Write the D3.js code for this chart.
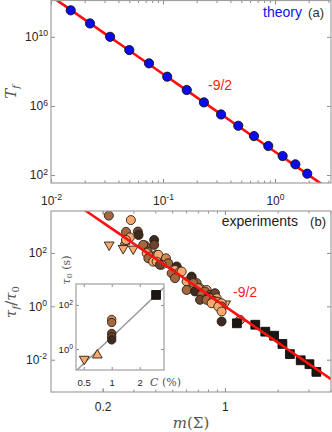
<!DOCTYPE html>
<html>
<head>
<meta charset="UTF-8">
<script src="https://cdn.jsdelivr.net/npm/d3@7"></script>
<style>
body{margin:0;background:#fff;}
.tick text{font-family:"Liberation Sans",Arial,sans-serif;font-size:12px;fill:#262626;}
.tick line{stroke:#8c8c8c;}
.frame{fill:none;stroke:#a0a0a0;stroke-width:1.2;}
.note{font-family:"Liberation Sans",Arial,sans-serif;font-size:14px;}
.mathlabel{font-family:"DejaVu Serif","Liberation Serif",serif;fill:#555;}
</style>
</head>
<body>
<div id="root"></div>
<script>
const W = 332, H = 432

// (a) theory
const theoryM = [0.0150, 0.0223, 0.0337, 0.050, 0.075, 0.109, 0.163, 0.232, 0.330, 0.470, 0.649, 0.871, 1.17, 1.52, 1.94]
const theoryT = [3.4e11, 5.9e10, 1.0e10, 1.7e9, 2.9e8, 4.9e7, 8.3e6, 1.6e6, 3.2e5, 7.1e4, 1.8e4, 4.8e3, 1.26e3, 417, 120]
const theoryPrefactor = 2240
const exponent = -4.5

// (b) experiments: [m, tau_f/tau_0, sample]
const circles = [
  [0.217,2500,2],[0.290,1700,0],[0.272,615,2],[0.318,630,3],[0.321,470,4],[0.286,380,0],[0.272,306,0],
  [0.394,306,4],[0.394,200,3],[0.349,190,2],[0.341,200,2],[0.362,112,2],[0.357,98,0],[0.373,73,0],
  [0.407,85,2],[0.416,85,0],[0.365,63,2],[0.389,47,0],[0.407,47,0],[0.460,63,1],[0.474,41,2],
  [0.435,36,0],[0.425,36,3],[0.530,31,4],[0.518,23,0],[0.496,17.4,2],[0.553,20,1],[0.566,20,0],
  [0.518,11.3,2],[0.604,8.5,0],[0.645,13,4],[0.645,11.3,4],[0.689,7.4,2],[0.659,7.4,2],[0.604,4.1,2],
  [0.720,4.8,0],[0.704,4.8,1],[0.674,3.6,4],[0.786,4.1,0],[0.768,3.6,2],[0.736,2.7,2],[0.821,2.7,2],
  [0.877,3.1,3],[0.803,2.3,4],[0.821,2.0,1],[0.897,2.0,0],[0.720,1.75,3],[0.786,1.75,2],[0.858,1.6,1],
  [0.877,1.5,0],[0.904,1.5,1],[0.839,1.3,0],[0.957,1.3,0],[0.957,0.98,2],[0.916,0.98,0],
  [0.957,0.64,0],[0.957,0.27,4],[1.22,0.31,1]
]
const trianglesDown = [[0.218,200],[0.262,148],[0.299,141],[1.01,1.24]]
const trianglesUp = [[0.269,270]]
const squares = [[1.17,0.231],[1.49,0.204],[1.70,0.112],[1.91,0.079],[2.13,0.039],[2.35,0.0162],[2.71,0.0095],[3.04,0.0068],[3.33,0.0035]]
const sampleColors = ['#f6a96e','#d08a55','#a4683f','#6b4430','#3e2b1f']

// inset: tau_0 vs C
const insetCircles = [[1,22,1],[1,16,2],[1,5.1,3],[1,3.6,3],[1,2.6,4]]
const insetSquares = [[3.0,285]]
const insetDown = [[0.507,0.35]]
const insetUp = [[0.70,0.53]]
const insetFitK = 3.5, insetFitExp = 4

// ticks
const topXTicks = [0.01, 0.1, 1]
const topYTicks = [1e2, 1e6, 1e10]
const botXTicks = [0.2, 1]
const botYTicks = [1e-2, 1, 1e2]
const insetXTicks = [0.5, 1, 2]
const insetYTicks = [1, 100]

const svg = d3.select('#root').append('svg').attr('width', W).attr('height', H)

const minorTicks = (scale) => {
  const [a, b] = scale.domain()
  const out = []
  for (let e = Math.floor(Math.log10(a)); e <= Math.ceil(Math.log10(b)); e++) {
    for (let k = 1; k < 10; k++) {
      const v = k * Math.pow(10, e)
      if (v >= a && v <= b) out.push(v)
    }
  }
  return out
}

const supFormat = (sel) => {   // 10^k labels
  sel.selectAll('.tick text').each(function (d) {
    const t = d3.select(this)
    t.text(null)
    t.append('tspan').text('10')
    t.append('tspan').attr('dy', '-0.55em').attr('font-size', '0.72em').text(Math.round(Math.log10(d)))
  })
}

const frameAxes = (g, x, y, opt) => {
  const [x0, x1] = x.range(), [y0, y1] = y.range()
  const noDomain = a => a.select('.domain').remove()
  // minor ticks
  if (opt.xMinor) {
    const mt = minorTicks(x)
    g.append('g').attr('transform', `translate(0,${y0})`).call(d3.axisBottom(x).tickValues(mt).tickSize(-2.5).tickFormat('')).call(noDomain)
    g.append('g').attr('transform', `translate(0,${y1})`).call(d3.axisTop(x).tickValues(mt).tickSize(-2.5).tickFormat('')).call(noDomain)
  }
  const bx = g.append('g').attr('transform', `translate(0,${y0})`)
    .call(d3.axisBottom(x).tickValues(opt.xTicks).tickSize(-opt.len).tickPadding(opt.xPad).tickFormat(opt.xFmt || (d => d)))
    .call(noDomain)
  g.append('g').attr('transform', `translate(0,${y1})`).call(d3.axisTop(x).tickValues(opt.xTicks).tickSize(-opt.len).tickFormat('')).call(noDomain)
  const ly = g.append('g').attr('transform', `translate(${x0},0)`)
    .call(d3.axisLeft(y).tickValues(opt.yTicks).tickSize(-opt.len).tickPadding(opt.yPad))
    .call(noDomain)
  g.append('g').attr('transform', `translate(${x1},0)`).call(d3.axisRight(y).tickValues(opt.yTicks).tickSize(-opt.len).tickFormat('')).call(noDomain)
  supFormat(ly)
  if (opt.xSup) supFormat(bx)
  if (opt.font) g.selectAll('.tick text').style('font-size', opt.font + 'px')
  g.append('rect').attr('class', 'frame').attr('x', x0).attr('y', y1).attr('width', x1 - x0).attr('height', y0 - y1)
}

const powerLine = (g, x, y, k, p, clipId, color, width) => {
  const xs = d3.range(0, 21).map(i => {
    const [a, b] = x.domain()
    return a * Math.pow(b / a, i / 20)
  })
  g.append('path').attr('clip-path', `url(#${clipId})`)
    .attr('d', d3.line().x(d => x(d)).y(d => y(k * Math.pow(d, p)))(xs))
    .attr('fill', 'none').attr('stroke', color).attr('stroke-width', width)
}

const defs = svg.append('defs')
const addClip = (id, x, y) => {
  defs.append('clipPath').attr('id', id).append('rect')
    .attr('x', x.range()[0]).attr('y', y.range()[1])
    .attr('width', x.range()[1] - x.range()[0]).attr('height', y.range()[0] - y.range()[1])
}

const tri = d3.symbol().type(d3.symbolTriangle).size(42)
const sq = d3.symbol().type(d3.symbolSquare).size(78)

// ---------- panel (a)
const renderTop = () => {
  const x = d3.scaleLog().domain([0.01, Math.pow(10, 0.5)]).range([51, 331])
  const y = d3.scaleLog().domain([Math.pow(10, 1.54), Math.pow(10, 12.1)]).range([183, 0.5])
  addClip('clipA', x, y)
  const g = svg.append('g')
  powerLine(g, x, y, theoryPrefactor, exponent, 'clipA', '#ff1010', 2.6)
  g.append('g').selectAll('circle').data(theoryM).enter().append('circle')
    .attr('cx', d => x(d)).attr('cy', (d, i) => y(theoryT[i])).attr('r', 4.6)
    .attr('fill', '#0a0aee').attr('stroke', '#111').attr('stroke-width', 0.9)
  frameAxes(g, x, y, { xTicks: topXTicks, yTicks: topYTicks, len: 4, xPad: 13, yPad: 3, xMinor: true, xSup: true })
  g.append('text').attr('class', 'note').attr('x', 302).attr('y', 17).attr('text-anchor', 'end').attr('fill', '#1010ee').text('theory')
  g.append('text').attr('class', 'note').attr('x', 324).attr('y', 17).attr('text-anchor', 'end').attr('fill', '#333').style('font-size', '13px').text('(a)')
  g.append('text').attr('class', 'note').attr('x', 208).attr('y', 90).attr('fill', '#ff1a1a').text('-9/2')
  const lab = g.append('text').attr('class', 'mathlabel').attr('transform', 'translate(16,92) rotate(-90)').attr('text-anchor', 'middle').style('font-size', '15px')
  lab.append('tspan').style('font-style', 'italic').text('T')
  lab.append('tspan').style('font-style', 'italic').style('font-size', '10px').attr('dy', 3).text('f')
}

// ---------- panel (b)
const renderBottom = () => {
  const x = d3.scaleLog().domain([Math.pow(10, -0.994), Math.pow(10, 0.606)]).range([51, 331])
  const y = d3.scaleLog().domain([Math.pow(10, -3.21), Math.pow(10, 3.57)]).range([392, 211])
  addClip('clipB', x, y)
  const g = svg.append('g')
  const pts = g.append('g').attr('clip-path', 'url(#clipB)')
  pts.selectAll('path.down').data(trianglesDown).enter().append('path').attr('class', 'down')
    .attr('d', tri).attr('transform', d => `translate(${x(d[0])},${y(d[1])}) rotate(180)`)
    .attr('fill', sampleColors[0]).attr('stroke', '#2a1e14').attr('stroke-width', 0.9)
  pts.selectAll('path.up').data(trianglesUp).enter().append('path').attr('class', 'up')
    .attr('d', tri).attr('transform', d => `translate(${x(d[0])},${y(d[1])})`)
    .attr('fill', sampleColors[0]).attr('stroke', '#2a1e14').attr('stroke-width', 0.9)
  pts.selectAll('circle').data(circles).enter().append('circle')
    .attr('cx', d => x(d[0])).attr('cy', d => y(d[1])).attr('r', 4.5)
    .attr('fill', d => sampleColors[d[2]]).attr('stroke', '#2a1e14').attr('stroke-width', 0.9)
  pts.selectAll('path.sq').data(squares).enter().append('path').attr('class', 'sq')
    .attr('d', sq).attr('transform', d => `translate(${x(d[0])},${y(d[1])})`)
    .attr('fill', '#1e1611').attr('stroke', '#000').attr('stroke-width', 0.8)
  powerLine(g, x, y, 1, exponent, 'clipB', '#ff1010', 2.6)
  frameAxes(g, x, y, { xTicks: botXTicks, yTicks: botYTicks, len: 4, xPad: 10, yPad: 4, xMinor: true })
  g.append('text').attr('class', 'note').attr('x', 298).attr('y', 226).attr('text-anchor', 'end').attr('fill', '#2a2018').text('experiments')
  g.append('text').attr('class', 'note').attr('x', 326).attr('y', 226).attr('text-anchor', 'end').attr('fill', '#2a2018').style('font-size', '13px').text('(b)')
  g.append('text').attr('class', 'note').attr('x', 233).attr('y', 297).attr('fill', '#ff1a1a').text('-9/2')
  const xl = g.append('text').attr('class', 'mathlabel').attr('x', 191).attr('y', 428).attr('text-anchor', 'middle').style('font-size', '15px')
  xl.append('tspan').style('font-style', 'italic').text('m')
  xl.append('tspan').text('(Σ)')
  const yl = g.append('text').attr('class', 'mathlabel').attr('transform', 'translate(16,302) rotate(-90)').attr('text-anchor', 'middle').style('font-size', '15px')
  yl.append('tspan').style('font-style', 'italic').text('τ')
  yl.append('tspan').style('font-style', 'italic').style('font-size', '10px').attr('dy', 3).text('f')
  yl.append('tspan').attr('dy', -3).text('/')
  yl.append('tspan').style('font-style', 'italic').text('τ')
  yl.append('tspan').style('font-size', '10px').attr('dy', 3).text('0')
}

// ---------- inset
const renderInset = () => {
  const x = d3.scaleLog().domain([0.413, 3.65]).range([76, 164])
  const y = d3.scaleLog().domain([Math.pow(10, -0.95), Math.pow(10, 2.95)]).range([370, 284])
  addClip('clipI', x, y)
  const g = svg.append('g')
  g.append('rect').attr('x', 76).attr('y', 284).attr('width', 88).attr('height', 86).attr('fill', '#fff')
  powerLine(g, x, y, insetFitK, insetFitExp, 'clipI', '#9a9a9a', 1.5)
  const pts = g.append('g')
  pts.selectAll('path.down').data(insetDown).enter().append('path').attr('class', 'down')
    .attr('d', tri).attr('transform', d => `translate(${x(d[0])},${y(d[1])}) rotate(180)`)
    .attr('fill', sampleColors[0]).attr('stroke', '#2a1e14').attr('stroke-width', 0.9)
  pts.selectAll('path.up').data(insetUp).enter().append('path').attr('class', 'up')
    .attr('d', tri).attr('transform', d => `translate(${x(d[0])},${y(d[1])})`)
    .attr('fill', sampleColors[0]).attr('stroke', '#2a1e14').attr('stroke-width', 0.9)
  pts.selectAll('circle').data(insetCircles).enter().append('circle')
    .attr('cx', d => x(d[0])).attr('cy', d => y(d[1])).attr('r', 4.2)
    .attr('fill', d => sampleColors[d[2]]).attr('stroke', '#2a1e14').attr('stroke-width', 0.9)
  pts.selectAll('path.sq').data(insetSquares).enter().append('path').attr('class', 'sq')
    .attr('d', sq).attr('transform', d => `translate(${x(d[0])},${y(d[1])})`)
    .attr('fill', '#1e1611').attr('stroke', '#000').attr('stroke-width', 0.8)
  frameAxes(g, x, y, { xTicks: insetXTicks, yTicks: insetYTicks, len: 3, xPad: 9, yPad: 3, font: 9.5 })
  const cl = g.append('text').attr('class', 'mathlabel').attr('x', 150).attr('y', 386).style('font-size', '11px')
  cl.append('tspan').style('font-style', 'italic').text('C')
  cl.append('tspan').text(' (%)')
  const tl = g.append('text').attr('class', 'mathlabel').attr('transform', 'translate(70,270) rotate(-90)').attr('text-anchor', 'middle').style('font-size', '11px')
  tl.append('tspan').style('font-style', 'italic').text('τ')
  tl.append('tspan').style('font-size', '8px').attr('dy', 2).text('0')
  tl.append('tspan').attr('dy', -2).text(' (s)')
}

renderTop()
renderBottom()
renderInset()
</script>
</body>
</html>
